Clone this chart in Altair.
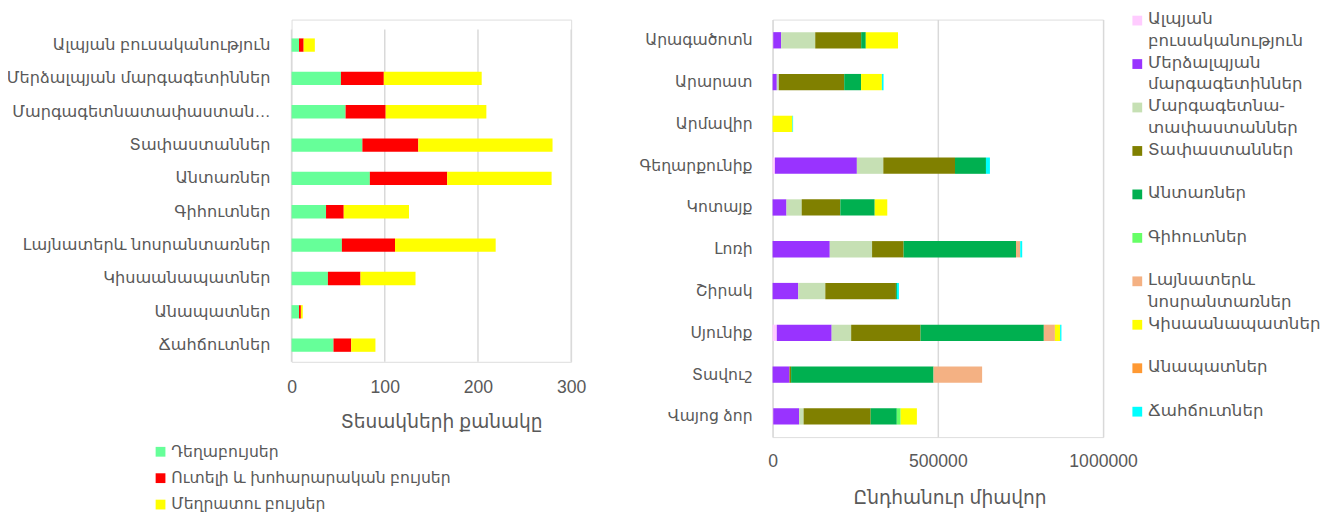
import altair as alt
import pandas as pd

# ---------------- Left chart data ----------------
habitats_left = [
    "Ալպյան բուսականություն",
    "Մերձալպյան մարգագետիններ ",
    "Մարգագետնատափաստան…",
    "Տափաստաններ",
    "Անտառներ",
    "Գիհուտներ",
    "Լայնատերև նոսրանտառներ ",
    "Կիսաանապատներ ",
    "Անապատներ ",
    "Ճահճուտներ",
]
plant_groups = ["Դեղաբույսեր", "Ուտելի և խոհարարական բույսեր", "Մեղրատու բույսեր"]
medicinal = [8, 53, 58, 76, 84, 37, 54, 39, 8, 45]
edible = [5, 46, 43, 60, 83, 19, 57, 35, 2, 19]
honey = [12, 105, 108, 144, 112, 70, 108, 59, 2, 26]
left_colors = ["#66FF99", "#FF0000", "#FFFF00"]
left_ticks = [0, 100, 200, 300]

# ---------------- Right chart data ----------------
regions = ["Արագածոտն", "Արարատ", "Արմավիր", "Գեղարքունիք", "Կոտայք",
           "Լոռի", "Շիրակ", "Սյունիք", "Տավուշ", "Վայոց ձոր"]
veg_types = [
    "Ալպյան բուսականություն",
    "Մերձալպյան մարգագետիններ",
    "Մարգագետնա-տափաստաններ",
    "Տափաստաններ",
    "Անտառներ",
    "Գիհուտներ",
    "Լայնատերև նոսրանտառներ",
    "Կիսաանապատներ",
    "Անապատներ",
    "Ճահճուտներ",
]
alpine = [2000, 0, 0, 7000, 0, 0, 0, 12700, 0, 2000]
subalpine = [24000, 12700, 0, 248000, 42000, 173000, 77700, 166000, 51000, 78000]
meadow_steppe = [103000, 6000, 0, 80000, 46000, 128000, 81800, 59000, 0, 13800]
steppe = [139000, 198000, 0, 217000, 117000, 95500, 213700, 210000, 5000, 203000]
forest = [14000, 51000, 0, 93600, 104000, 340000, 3000, 373000, 431000, 79000]
juniper = [0, 0, 0, 0, 0, 0, 0, 0, 0, 11800]
broadleaf = [0, 0, 0, 0, 0, 12800, 0, 33500, 147000, 0]
semidesert = [97500, 63000, 60000, 0, 38000, 0, 0, 15800, 0, 49000]
desert = [0, 0, 0, 0, 0, 0, 0, 0, 0, 0]
wetlands = [0, 5000, 2000, 12000, 0, 6000, 6000, 4000, 0, 0]
right_colors = ["#FFCCFF", "#9933FF", "#C6E0B4", "#808000", "#00B050",
                "#66FF66", "#F4B183", "#FFFF00", "#FF9933", "#00FFFF"]
right_ticks = [0, 500000, 1000000]

# ---------------- Build tables ----------------
left_series = [medicinal, edible, honey]
rows = []
for k, (g, vals) in enumerate(zip(plant_groups, left_series)):
    for h, v in zip(habitats_left, vals):
        rows.append({"habitat": h, "group": g, "value": v, "k": k})
df_left = pd.DataFrame(rows)
df_left_ticks = pd.DataFrame({"value": left_ticks})

right_series = [alpine, subalpine, meadow_steppe, steppe, forest, juniper,
                broadleaf, semidesert, desert, wetlands]
rows = []
for k, (t, vals) in enumerate(zip(veg_types, right_series)):
    for r, v in zip(regions, vals):
        rows.append({"region": r, "type": t, "value": v, "k": k})
df_right = pd.DataFrame(rows)


def wrap_label(s):
    if " " in s:
        return s.replace(" ", "\n", 1)
    if "-" in s:
        return s.replace("-", "-\n", 1)
    return s


df_legend = pd.DataFrame({
    "type": veg_types,
    "k": list(range(len(veg_types))),
    "label": [wrap_label(t) for t in veg_types],
})

FONT = "Liberation Sans, DejaVu Sans"
GRAY = "#595959"
GRID = "#D9D9D9"

# ---------------- Left chart ----------------
left_x_axis = alt.Axis(title="Տեսակների քանակը", values=left_ticks, grid=False,
                       domain=False, ticks=False, labelPadding=17, labelFlush=False,
                       labelFontSize=18, labelColor=GRAY, labelFont=FONT,
                       titleFontSize=19, titleFontWeight="normal", titleColor=GRAY,
                       titleFont=FONT, titlePadding=17, titleX=153, titleAlign="center")
left_x_scale = alt.Scale(domain=[0, 300], nice=False)

left_bars = alt.Chart(df_left).mark_bar().encode(
    y=alt.Y("habitat:N", sort=habitats_left,
            scale=alt.Scale(range=[9, 350], paddingInner=0.6, paddingOuter=0.3, round=False),
            axis=alt.Axis(title=None, domain=False, ticks=False, labelPadding=22,
                          labelFontSize=16.5, labelColor=GRAY, labelFont=FONT,
                          labelLimit=400, minExtent=278, maxExtent=278)),
    x=alt.X("value:Q", stack="zero", scale=left_x_scale, axis=left_x_axis),
    color=alt.Color("group:N", sort=plant_groups,
                    scale=alt.Scale(domain=plant_groups, range=left_colors),
                    legend=alt.Legend(title=None, orient="none", legendX=-142, legendY=434,
                                      symbolType="square", symbolSize=100,
                                      symbolStrokeWidth=0, labelFontSize=16,
                                      labelColor=GRAY, labelFont=FONT, labelOffset=3,
                                      rowPadding=11, padding=0, labelLimit=400)),
    order=alt.Order("k:Q", sort="ascending"),
)

left_grid = alt.Chart(df_left_ticks).mark_rule(color=GRID, strokeWidth=1.5).encode(
    x=alt.X("value:Q", scale=left_x_scale, axis=left_x_axis),
    y=alt.value(10),
    y2=alt.value(350),
)

left = alt.layer(left_grid, left_bars).properties(width=286, height=350)

# ---------------- Right chart ----------------
right_color_scale = alt.Scale(domain=veg_types, range=right_colors)

right_bars = alt.Chart(df_right).mark_bar().encode(
    y=alt.Y("region:N", sort=regions,
            scale=alt.Scale(paddingInner=0.61, paddingOuter=0.3, round=False),
            axis=alt.Axis(title=None, domain=False, ticks=False, labelPadding=21,
                          labelFontSize=16, labelColor=GRAY, labelFont=FONT,
                          labelLimit=300, minExtent=140, maxExtent=140)),
    x=alt.X("value:Q", stack="zero",
            scale=alt.Scale(domain=[0, 1000000], nice=False),
            axis=alt.Axis(title="Ընդհանուր միավոր", values=right_ticks, format="d",
                          grid=True, gridColor=GRID, gridWidth=1.5,
                          domain=False, ticks=False, labelPadding=16, labelFlush=False,
                          labelFontSize=18, labelColor=GRAY, labelFont=FONT,
                          titleFontSize=19, titleFontWeight="normal", titleColor=GRAY,
                          titleFont=FONT, titlePadding=19, titleX=181, titleAlign="center")),
    color=alt.Color("type:N", sort=veg_types, scale=right_color_scale, legend=None),
    order=alt.Order("k:Q", sort="ascending"),
)

legend_y = alt.Y("k:Q", scale=alt.Scale(domain=[0, 9], range=[1, 401]), axis=None)

legend_sym = alt.Chart(df_legend).mark_square(size=100, opacity=1).encode(
    y=legend_y,
    x=alt.value(373),
    color=alt.Color("type:N", sort=veg_types, scale=right_color_scale, legend=None),
)

legend_txt = alt.Chart(df_legend).mark_text(
    align="left", baseline="top", dy=-9, fontSize=17, lineHeight=22,
    lineBreak="\n", color=GRAY, font=FONT,
).encode(
    y=legend_y,
    x=alt.value(384),
    text="label:N",
)

right = alt.layer(right_bars, legend_sym, legend_txt).resolve_scale(
    y="independent"
).properties(width=338, height=427)

chart = alt.hconcat(left, right, spacing=49).resolve_scale(
    color="independent"
).properties(
    padding={"left": -3, "top": -4, "right": 5, "bottom": 5}
).configure_view(stroke=None).configure(font=FONT)

chart.save("out.html", embed_options={"renderer": "svg", "actions": False})
